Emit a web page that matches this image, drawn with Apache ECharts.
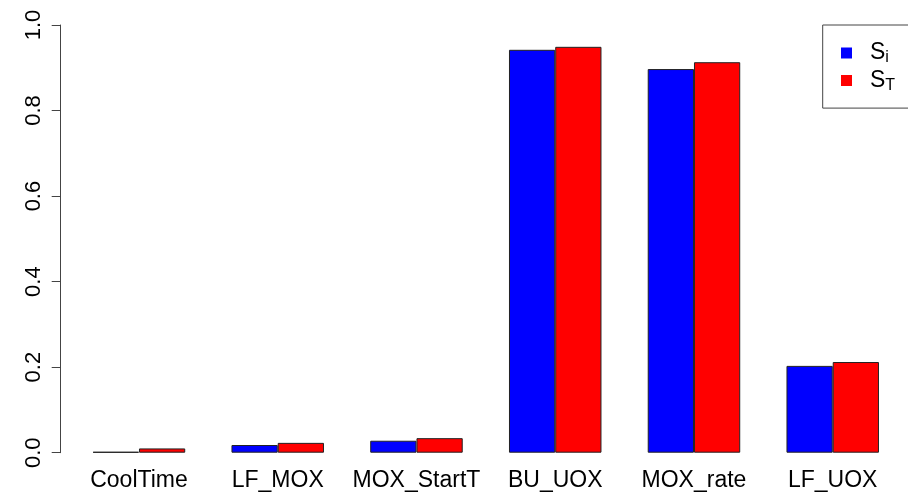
<!DOCTYPE html>
<html>
<head>
<meta charset="utf-8">
<script src="https://cdn.jsdelivr.net/npm/echarts@6/dist/echarts.min.js"></script>
<style>
  html, body { margin: 0; padding: 0; background: #fff; }
  #chart { width: 908px; height: 493px; }
</style>
</head>
<body>
<div id="chart"></div>
<script>
// Sensitivity indices per input parameter
const categories = ['CoolTime', 'LF_MOX', 'MOX_StartT', 'BU_UOX', 'MOX_rate', 'LF_UOX'];
const firstOrder = [0.002, 0.018, 0.028, 0.942, 0.897, 0.203];
const totalOrder = [0.010, 0.023, 0.034, 0.949, 0.913, 0.212];
const yTicks = [0, 0.2, 0.4, 0.6, 0.8, 1.0];

const FONT = 'Liberation Sans, Arial, Helvetica, sans-serif';

const chart = echarts.init(document.getElementById('chart'), null, { renderer: 'canvas' });

const barBorder = { borderColor: '#222', borderWidth: 1 };

chart.setOption({
  animation: false,
  backgroundColor: '#fff',
  grid: { left: 69.6, right: 5.9, top: 25, bottom: 40.3 },
  legend: {
    orient: 'vertical',
    left: 822.7,
    top: 25,
    padding: [16.5, 60, 14.6, 18.3],
    borderColor: '#444',
    borderWidth: 1,
    itemWidth: 11,
    itemHeight: 11,
    itemGap: 3,
    icon: 'rect',
    itemStyle: { borderWidth: 0 },
    formatter: function (name) {
      return '{s|S}{sub|' + name.split('_')[1] + '}';
    },
    textStyle: {
      fontFamily: FONT,
      color: '#000',
      rich: {
        s: { fontSize: 23, lineHeight: 26, fontFamily: FONT, color: '#000', padding: [0, 0, 0, 13] },
        sub: { fontSize: 16, lineHeight: 26, fontFamily: FONT, color: '#000', verticalAlign: 'bottom', padding: [8, 0, 0, 0] }
      }
    },
    data: ['S_i', 'S_T']
  },
  xAxis: {
    type: 'category',
    data: categories,
    axisLine: { show: false },
    axisTick: { show: false },
    axisLabel: { fontFamily: FONT, fontSize: 23, color: '#000', margin: 16, interval: 0 }
  },
  yAxis: {
    type: 'value',
    min: 0,
    max: 1,
    interval: 0.2,
    offset: 8.9,
    splitLine: { show: false },
    axisLine: { show: true, lineStyle: { color: '#444', width: 1 } },
    axisTick: { show: true, length: 9, lineStyle: { color: '#444', width: 1 } },
    axisLabel: {
      fontFamily: FONT,
      fontSize: 22,
      color: '#000',
      rotate: 90,
      margin: 16,
      customValues: yTicks,
      formatter: v => v.toFixed(1)
    }
  },
  series: [
    {
      name: 'S_i',
      type: 'bar',
      data: firstOrder,
      barGap: '0%',
      barCategoryGap: '33.333%',
      itemStyle: Object.assign({ color: '#0000ff' }, barBorder)
    },
    {
      name: 'S_T',
      type: 'bar',
      data: totalOrder,
      barGap: '0%',
      barCategoryGap: '33.333%',
      itemStyle: Object.assign({ color: '#ff0000' }, barBorder)
    }
  ]
});
</script>
</body>
</html>
